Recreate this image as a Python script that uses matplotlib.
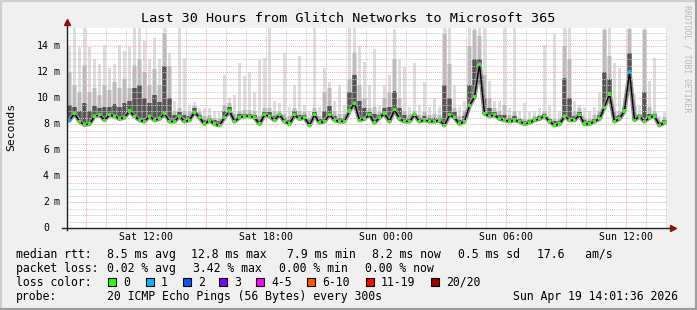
import numpy as np
import matplotlib.pyplot as plt
from matplotlib.lines import Line2D
from matplotlib.patches import Rectangle
from matplotlib.transforms import blended_transform_factory

# ---------------------------------------------------------------- data
# 15-minute bins over the last 30 h, starting Sat 08:01:36 (values in ms)
median_ms = [
    8.3, 8.8, 8.2, 7.95, 8.0, 8.6, 8.7, 8.3, 8.7, 8.6, 8.4, 8.5, 9.0, 8.6, 8.3, 8.2, 8.6, 8.3, 8.4, 8.8,
    8.2, 8.2, 8.6, 8.2, 8.3, 8.9, 8.5, 8.0, 8.3, 8.0, 7.9, 8.5, 9.0, 8.2, 8.5, 8.6, 8.6, 8.5, 8.0, 8.7,
    8.6, 8.3, 8.7, 8.2, 8.0, 8.7, 8.4, 8.5, 7.9, 8.7, 8.1, 8.2, 8.7, 8.3, 8.2, 8.2, 9.0, 9.6, 8.3, 8.4,
    8.7, 8.1, 8.5, 8.8, 8.2, 9.1, 8.4, 8.2, 8.2, 8.7, 8.2, 8.3, 8.2, 8.2, 8.3, 7.9, 8.7, 8.5, 8.0, 8.2,
    9.4, 10.1, 12.6, 8.8, 8.6, 8.7, 8.4, 8.3, 8.2, 8.3, 8.2, 8.0, 8.1, 8.3, 8.4, 8.6, 8.2, 7.9, 8.0, 8.6,
    8.3, 8.3, 8.7, 8.0, 8.0, 8.2, 8.4, 9.3, 10.3, 8.2, 8.4, 9.0, 12.0, 8.3, 8.6, 8.2, 8.5, 8.6, 7.9, 8.1,
]
smoke_light = [
    14.0, 15.4, 13.9, 15.4, 13.9, 13.0, 12.6, 14.1, 12.3, 12.6, 14.1, 13.6, 13.9, 15.4, 15.4, 14.4, 13.0, 14.6, 13.0, 15.4,
    13.5, 9.8, 15.4, 13.1, 9.5, 9.7, 9.2, 9.2, 9.2, 9.0, 9.0, 11.8, 10.0, 10.2, 12.7, 11.7, 12.0, 10.5, 13.0, 13.1,
    15.4, 9.8, 9.6, 13.5, 9.3, 11.0, 13.2, 9.5, 9.0, 15.4, 9.3, 12.3, 11.2, 9.8, 11.0, 9.5, 15.4, 15.4, 14.0, 12.8,
    11.0, 13.8, 9.5, 11.0, 11.8, 15.3, 13.0, 12.4, 9.3, 12.7, 9.5, 11.2, 9.3, 10.0, 9.3, 15.4, 15.4, 11.0, 9.3, 9.8,
    15.4, 15.4, 15.4, 15.4, 11.3, 9.8, 9.8, 15.4, 9.2, 15.4, 9.0, 9.6, 8.9, 9.0, 9.2, 14.1, 9.5, 14.9, 9.0, 15.4,
    15.4, 9.8, 9.5, 9.2, 9.0, 9.3, 10.5, 15.4, 15.4, 12.7, 12.3, 10.0, 15.4, 10.3, 9.4, 15.4, 11.3, 13.1, 8.6, 8.9,
]
smoke_mid = [
    12.0, 11.0, 10.5, 12.5, 10.5, 10.8, 10.2, 11.0, 10.6, 11.2, 10.8, 11.5, 10.8, 12.5, 13.0, 12.0, 11.0, 12.2, 11.0, 15.0,
    12.5, 9.0, 9.2, 9.0, 9.0, 9.4, 8.9, 8.6, 8.7, 8.5, 8.4, 9.5, 9.6, 8.8, 9.0, 9.1, 9.1, 9.0, 8.6, 9.2,
    9.2, 9.0, 9.0, 8.8, 8.6, 9.2, 9.0, 8.9, 8.5, 9.2, 8.6, 10.5, 10.8, 9.0, 8.8, 8.8, 11.5, 13.5, 11.0, 10.0,
    9.2, 9.3, 8.9, 10.0, 10.5, 13.0, 10.0, 9.0, 8.8, 9.0, 8.7, 8.9, 8.7, 8.8, 8.7, 14.9, 12.6, 9.2, 8.6, 9.0,
    14.0, 15.2, 14.8, 11.8, 10.0, 9.2, 9.0, 9.5, 8.7, 9.0, 8.5, 8.4, 8.4, 8.6, 8.7, 9.0, 8.5, 8.4, 8.4, 14.0,
    13.0, 9.0, 9.2, 8.5, 8.4, 8.7, 9.0, 15.2, 13.2, 9.0, 9.0, 9.5, 15.3, 9.4, 8.8, 15.2, 9.3, 9.0, 8.2, 8.5,
]
smoke_dark = [
    9.5, 9.3, 9.0, 9.6, 9.0, 9.4, 9.2, 9.3, 9.3, 9.5, 9.3, 9.6, 9.8, 10.8, 11.0, 10.0, 9.6, 10.2, 9.7, 12.5,
    10.0, 8.7, 8.9, 8.7, 8.6, 9.2, 8.7, 8.3, 8.5, 8.3, 8.2, 9.0, 9.3, 8.5, 8.8, 8.8, 8.8, 8.7, 8.3, 8.9,
    8.9, 8.6, 8.8, 8.5, 8.3, 9.0, 8.7, 8.7, 8.2, 8.9, 8.4, 9.0, 9.4, 8.6, 8.5, 8.5, 10.5, 11.8, 9.8, 9.2,
    8.9, 8.8, 8.7, 9.2, 9.3, 10.5, 9.2, 8.7, 8.5, 8.8, 8.5, 8.6, 8.5, 8.5, 8.5, 11.0, 10.0, 8.9, 8.3, 8.6,
    11.0, 13.0, 13.0, 10.0, 9.2, 8.9, 8.7, 8.7, 8.5, 8.6, 8.4, 8.2, 8.3, 8.5, 8.6, 8.8, 8.4, 8.2, 8.2, 11.5,
    10.0, 8.6, 8.9, 8.3, 8.2, 8.4, 8.7, 12.0, 11.5, 8.6, 8.7, 9.2, 13.5, 8.7, 8.7, 10.5, 8.8, 8.8, 8.0, 8.3,
]
loss_one_bins = [0, 112]  # bins where 1 of 20 pings was lost

y_ticks = [0, 2, 4, 6, 8, 10, 12, 14]
x_tick_hours = [12, 18, 24, 30, 36]
x_tick_labels = ["Sat 12:00", "Sat 18:00", "Sun 00:00", "Sun 06:00", "Sun 12:00"]

title = "Last 30 Hours from Glitch Networks to Microsoft 365"
loss_labels = ["0", "1", "2", "3", "4-5", "6-10", "11-19", "20/20"]
loss_colors = ["#26FF00", "#00B8FF", "#0059FF", "#7E00FF", "#FF00FF", "#FF5500", "#FF0000", "#A10000"]

# ---------------------------------------------------------------- layout
W, H = 697, 310
MONO = "DejaVu Sans Mono"
plt.rcParams["font.family"] = MONO


def fx(x):
    return x / W


def fy(y):
    return 1 - y / H


fig = plt.figure(figsize=(W / 100, H / 100), dpi=100, facecolor="#F0F0F0")
ax = fig.add_axes([fx(67), fy(228), 600 / W, 200 / H])
ax.set_facecolor("white")

t0 = 8 + 1 / 60 + 36 / 3600  # Sat 08:01:36, in hours since Sat 00:00
step = 0.25
edges = t0 + step * np.arange(len(median_ms) + 1)
centers = edges[:-1] + step / 2
med = np.array(median_ms)
light = np.array(smoke_light)
mid = np.array(smoke_mid)
dark = np.array(smoke_dark)

# smoke: continuous light base, narrow spikes, darker core near the median
ax.stairs(smoke_mid, edges, baseline=med, fill=True, color="#DDDDDD", lw=0, zorder=1)
ax.bar(centers, light - med, bottom=med, width=step * 0.75, color="#DDDDDD", lw=0, zorder=1.05)
ax.bar(centers, mid - med, bottom=med, width=step * 0.75, color="#BBBBBB", lw=0, zorder=1.1)
ax.stairs(smoke_dark, edges, baseline=med, fill=True, color="#7A7A7A", lw=0, zorder=1.2)
ax.bar(centers, dark - med, bottom=med, width=step * 0.5, color="#555555", lw=0, zorder=1.25)
ax.plot(centers, med, color="#8A8A8A", lw=3.2, zorder=1.3)

ax.set_xlim(t0, t0 + 30)
ax.set_ylim(0, 200 / 13)

# grid
ax.set_xticks(np.arange(9, 39, 3))
ax.set_xticks(np.arange(9, 39, 1), minor=True)
ax.set_yticks(y_ticks)
ax.set_yticks(np.arange(0, 15.5, 0.5), minor=True)
ax.grid(which="minor", color="#C8C8C8", ls=(0, (1, 1)), lw=0.7)
ax.grid(which="major", color="#F0A8A8", ls=(0, (1, 1)), lw=0.7)
ax.set_axisbelow(False)
ax.tick_params(which="both", length=0, labelbottom=False, labelleft=False)
for s in ax.spines.values():
    s.set_visible(False)

# median line, coloured by loss
ax.plot(centers, med, color="black", lw=1.0, zorder=3)
colors = [loss_colors[1] if i in loss_one_bins else loss_colors[0] for i in range(len(med))]
ax.scatter(centers, med, s=5, marker="s", c=colors, linewidths=0, zorder=4)

# axes with arrows
ax.plot([0, 0], [-0.01, 1.02], transform=ax.transAxes, color="#202020", lw=1, clip_on=False, zorder=5)
ax.plot([-0.008, 1.008], [0, 0], transform=ax.transAxes, color="#202020", lw=1, clip_on=False, zorder=5)
ax.plot([0], [1.03], transform=ax.transAxes, marker="^", ms=4.5, color="#8B1010", clip_on=False, zorder=6)
ax.plot([1.01], [0], transform=ax.transAxes, marker=">", ms=4.5, color="#8B1010", clip_on=False, zorder=6)

# tick labels
ytr = blended_transform_factory(fig.transFigure, ax.transData)
for v in y_ticks:
    fig.text(fx(49), v, str(v), transform=ytr, ha="right", va="center", fontsize=7.1)
    if v:
        fig.text(fx(53.5), v, "m", transform=ytr, ha="left", va="center", fontsize=7.1)
xtr = blended_transform_factory(ax.transData, fig.transFigure)
for h, lab in zip(x_tick_hours, x_tick_labels):
    fig.text(h, fy(237.5), lab, transform=xtr, ha="center", va="center", fontsize=7.1)

# titles
fig.text(fx(348), fy(19), title, ha="center", va="center", fontsize=9.7)
fig.text(fx(11), fy(127), "Seconds", rotation=90, ha="center", va="center", fontsize=8.2)
fig.text(fx(687), fy(59), "RRDTOOL / TOBI OETIKER", rotation=270, ha="center", va="center",
         fontsize=5.9, color="#B8B8B8")

# legend
FS = 8.3
rows = {
    254.3: [(15.5, "median rtt:"), (107.3, "8.5 ms avg"), (191.5, "12.8 ms max"), (286.7, "7.9 ms min"),
            (372.0, "8.2 ms now"), (458.0, "0.5 ms sd"), (537.0, "17.6   am/s")],
    268.3: [(15.5, "packet loss:"), (107.3, "0.02 % avg"), (193.0, "3.42 % max"), (279.0, "0.00 % min"),
            (365.0, "0.00 % now")],
    282.0: [(15.5, "loss color:")],
    296.3: [(15.5, "probe:"), (107.3, "20 ICMP Echo Pings (56 Bytes) every 300s"),
            (513.0, "Sun Apr 19 14:01:36 2026")],
}
for y, items in rows.items():
    for x, s in items:
        fig.text(fx(x), fy(y), s, ha="left", va="center", fontsize=FS)

box_x = [108.3, 145.7, 182.7, 219.3, 256.0, 307.3, 365.7, 430.7]
for bx, lab, col in zip(box_x, loss_labels, loss_colors):
    fig.patches.append(Rectangle((fx(bx), fy(286)), 8 / W, 8 / H, transform=fig.transFigure,
                                 facecolor=col, edgecolor="black", lw=0.8))
    fig.text(fx(bx + 15), fy(282), lab, ha="left", va="center", fontsize=FS)

# 3d frame
for xs, ys, c in [([0, 0], [0, 1], "#CFCFCF"), ([0, 1], [1, 1], "#CFCFCF"),
                  ([1, 1], [0, 1], "#9E9E9E"), ([0, 1], [0, 0], "#9E9E9E")]:
    fig.add_artist(Line2D(xs, ys, transform=fig.transFigure, color=c, lw=3))

fig.savefig("out.png", dpi=100, facecolor=fig.get_facecolor())
